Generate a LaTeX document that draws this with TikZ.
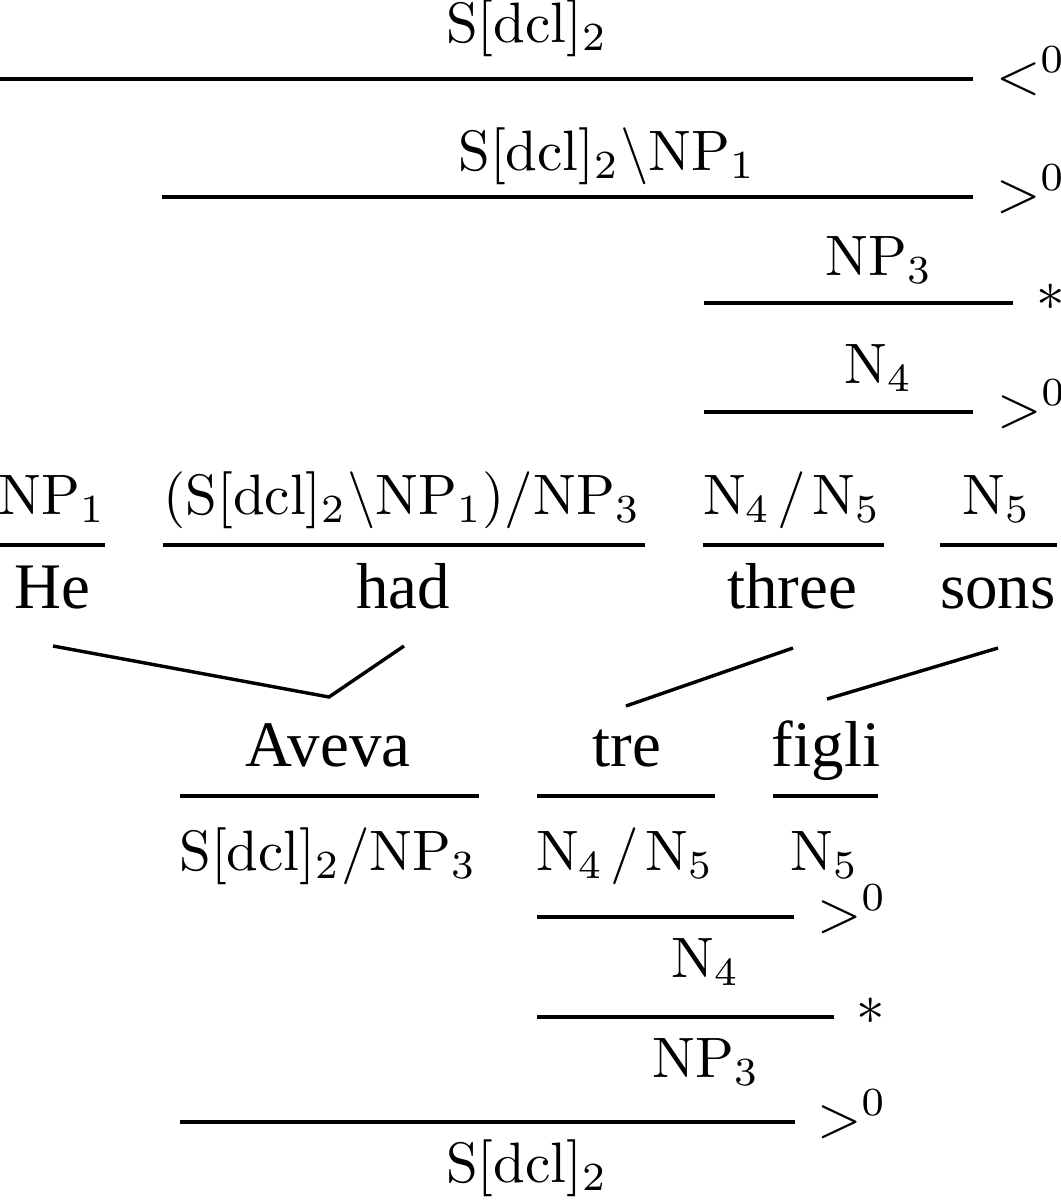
\documentclass[tikz,border=0pt]{standalone}
\usepackage{fontspec}
\newfontfamily\wordfont{Liberation Serif}
\newcommand\ccgsl{\mskip2mu/\mskip2mu}
\begin{document}
\begin{tikzpicture}[x=0.17544pt,y=-0.17544pt,
  cat/.style={anchor=base,inner sep=0pt},
  word/.style={anchor=base,inner sep=0pt,font=\wordfont\fontsize{11.4}{13}\selectfont},
  op/.style={anchor=base west,inner sep=0pt},
  rule/.style={line width=0.6pt},
  link/.style={line width=0.6pt,line join=miter}]
\useasboundingbox (0,0) rectangle (1061,1200);

% ---------- top derivation ----------
\node[cat] (t1) at (527,42) {$\mathrm{S[dcl]_2}$};
\draw[rule] (0,79) -- (973,79);
\node[op] (o1) at (995,93) {$<^0$};

\node[cat] (t2) at (607,170) {$\mathrm{S[dcl]_2\backslash NP_1}$};
\draw[rule] (162,197) -- (973,197);
\node[op] (o2) at (995,211) {$>^0$};

\node[cat] (t3) at (879,275) {$\mathrm{NP_3}$};
\draw[rule] (704,303) -- (1013,303);
\node[op] (o3) at (1035,310) {$\ast$};

\node[cat] (t4) at (879,383) {$\mathrm{N_4}$};
\draw[rule] (704,412) -- (973,412);
\node[op] (o4) at (996,426) {$>^0$};

% lexical categories (English)
\node[cat] (e1) at (52,514) {$\mathrm{NP_1}$};
\node[cat] (e2) at (402,514) {$\mathrm{(S[dcl]_2\backslash NP_1)/NP_3}$};
\node[cat] (e3) at (792,514) {$\mathrm{N_4\ccgsl N_5}$};
\node[cat] (e4) at (997,514) {$\mathrm{N_5}$};
\draw[rule] (0,545) -- (105,545);
\draw[rule] (163,545) -- (645,545);
\draw[rule] (703,545) -- (884,545);
\draw[rule] (940,545) -- (1057,545);

% English words
\node[word] (he) at (52,608) {He};
\node[word] (had) at (403,608) {had};
\node[word] (three) at (792,608) {three};
\node[word] (sons) at (998,608) {sons};

% Italian words
\node[word] (aveva) at (328,766) {Aveva};
\node[word] (tre) at (627,766) {tre};
\node[word] (figli) at (826,766) {figli};

% alignment links
\coordinate (he-b) at (53,646);
\coordinate (had-b) at (404,646);
\coordinate (three-b) at (793,648);
\coordinate (sons-b) at (998,648);
\coordinate (aveva-t) at (329,697);
\coordinate (tre-t) at (626,706);
\coordinate (figli-t) at (827,699);
\draw[link] (he-b) -- (aveva-t) -- (had-b);
\draw[link] (three-b) -- (tre-t);
\draw[link] (sons-b) -- (figli-t);

% ---------- bottom derivation ----------
\draw[rule] (180,796) -- (479,796);
\draw[rule] (537,796) -- (715,796);
\draw[rule] (773,796) -- (878,796);
\node[cat] (i1) at (328,870) {$\mathrm{S[dcl]_2/NP_3}$};
\node[cat] (i2) at (625,870) {$\mathrm{N_4\ccgsl N_5}$};
\node[cat] (i3) at (825,870) {$\mathrm{N_5}$};

\draw[rule] (537,917) -- (794,917);
\node[op] (p1) at (816,931) {$>^0$};
\node[cat] (b1) at (706,977) {$\mathrm{N_4}$};

\draw[rule] (537,1017) -- (834,1017);
\node[op] (p2) at (855,1024) {$\ast$};
\node[cat] (b2) at (706,1077) {$\mathrm{NP_3}$};

\draw[rule] (180,1122) -- (795,1122);
\node[op] (p3) at (816,1136) {$>^0$};
\node[cat] (b3) at (527,1182) {$\mathrm{S[dcl]_2}$};
\end{tikzpicture}
\end{document}
